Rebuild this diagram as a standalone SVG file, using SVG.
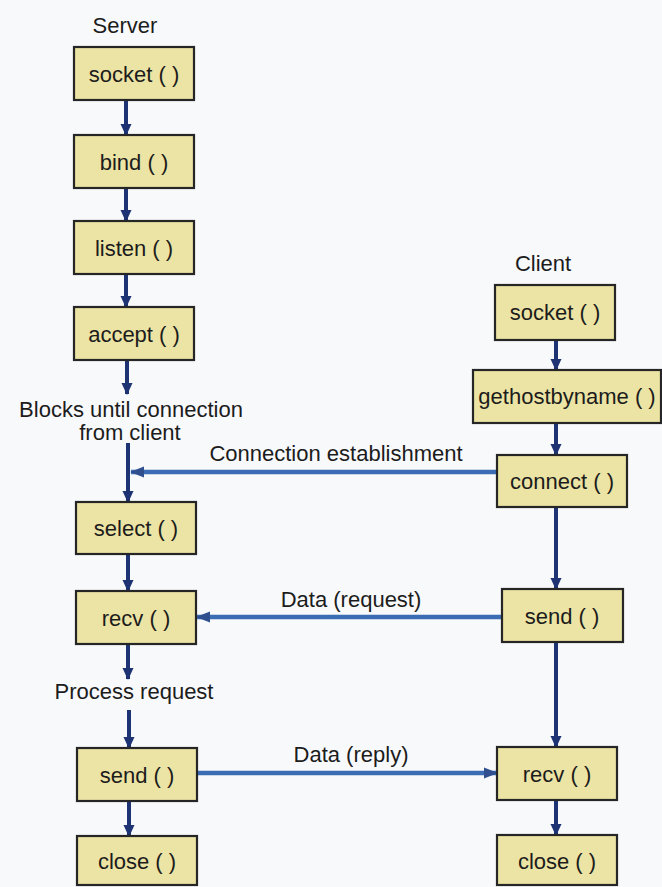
<svg xmlns="http://www.w3.org/2000/svg" width="662" height="887" viewBox="0 0 662 887">
  <style>
    .box rect { fill: #ece4a4; stroke: #262626; stroke-width: 2.2; }
    .box text, .lbl { font-family: "Liberation Sans", Arial, sans-serif; font-size: 22px; fill: #1c1c1c; text-anchor: middle; }
    .flow { stroke: #1d3373; stroke-width: 4; fill: none; }
    .msg { stroke: #3a6db3; stroke-width: 4.5; fill: none; }
  </style>
  <defs>
    <marker id="headFlow" markerUnits="userSpaceOnUse" markerWidth="12" markerHeight="12" viewBox="0 0 12 12" refX="11" refY="6" orient="auto">
      <path d="M0,0.5 L12,6 L0,11.5 z" fill="#1d3373"/>
    </marker>
    <marker id="headMsg" markerUnits="userSpaceOnUse" markerWidth="14" markerHeight="12" viewBox="0 0 14 12" refX="13" refY="6" orient="auto">
      <path d="M0,0.5 L14,6 L0,11.5 z" fill="#2f4f8f"/>
    </marker>
  </defs>

  <rect width="662" height="887" fill="#f8f9fb"/>

  <!-- column headings and annotations -->
  <text class="lbl" x="125" y="33">Server</text>
  <text class="lbl" x="543" y="271">Client</text>
  <text class="lbl" x="131" y="417">Blocks until connection</text>
  <text class="lbl" x="130" y="440">from client</text>
  <text class="lbl" x="134" y="699">Process request</text>
  <text class="lbl" x="336" y="461">Connection establishment</text>
  <text class="lbl" x="351" y="607">Data (request)</text>
  <text class="lbl" x="351" y="762">Data (reply)</text>

  <!-- connectors -->
  <g id="connectors">
    <!-- server flow -->
    <line class="flow" x1="126" y1="100" x2="126" y2="135" marker-end="url(#headFlow)"/>
    <line class="flow" x1="126" y1="188" x2="126" y2="221" marker-end="url(#headFlow)"/>
    <line class="flow" x1="126" y1="274" x2="126" y2="307" marker-end="url(#headFlow)"/>
    <line class="flow" x1="127" y1="360" x2="127" y2="394" marker-end="url(#headFlow)"/>
    <line class="flow" x1="128" y1="443" x2="128" y2="502" marker-end="url(#headFlow)"/>
    <line class="flow" x1="128" y1="554" x2="128" y2="591" marker-end="url(#headFlow)"/>
    <line class="flow" x1="128" y1="644" x2="128" y2="679" marker-end="url(#headFlow)"/>
    <line class="flow" x1="129" y1="710" x2="129" y2="748" marker-end="url(#headFlow)"/>
    <line class="flow" x1="129" y1="801" x2="129" y2="836" marker-end="url(#headFlow)"/>
    <!-- client flow -->
    <line class="flow" x1="556" y1="340" x2="556" y2="370" marker-end="url(#headFlow)"/>
    <line class="flow" x1="556" y1="423" x2="556" y2="455" marker-end="url(#headFlow)"/>
    <line class="flow" x1="556" y1="507" x2="556" y2="589" marker-end="url(#headFlow)"/>
    <line class="flow" x1="556" y1="642" x2="556" y2="747" marker-end="url(#headFlow)"/>
    <line class="flow" x1="556" y1="800" x2="556" y2="835" marker-end="url(#headFlow)"/>
    <!-- messages between the two sides -->
    <line class="msg" x1="497" y1="472" x2="131" y2="472" marker-end="url(#headMsg)"/>
    <line class="msg" x1="502" y1="617" x2="197" y2="617" marker-end="url(#headMsg)"/>
    <line class="msg" x1="197" y1="773" x2="497" y2="773" marker-end="url(#headMsg)"/>
  </g>

  <!-- server calls -->
  <g id="srv-socket" class="box"><rect x="74" y="47" width="120" height="53"/><text x="134" y="82">socket ( )</text></g>
  <g id="srv-bind" class="box"><rect x="74" y="135" width="120" height="53"/><text x="134" y="170">bind ( )</text></g>
  <g id="srv-listen" class="box"><rect x="74" y="221" width="120" height="53"/><text x="134" y="256">listen ( )</text></g>
  <g id="srv-accept" class="box"><rect x="74" y="307" width="120" height="53"/><text x="134" y="342">accept ( )</text></g>
  <g id="srv-select" class="box"><rect x="76" y="502" width="120" height="52"/><text x="136" y="536">select ( )</text></g>
  <g id="srv-recv" class="box"><rect x="76" y="591" width="120" height="53"/><text x="136" y="626">recv ( )</text></g>
  <g id="srv-send" class="box"><rect x="77" y="748" width="120" height="53"/><text x="137" y="783">send ( )</text></g>
  <g id="srv-close" class="box"><rect x="77" y="836" width="120" height="49"/><text x="137" y="869">close ( )</text></g>

  <!-- client calls -->
  <g id="cli-socket" class="box"><rect x="495" y="285" width="120" height="55"/><text x="555" y="320">socket ( )</text></g>
  <g id="cli-gethostbyname" class="box"><rect x="473" y="370" width="188" height="53"/><text x="567" y="404">gethostbyname ( )</text></g>
  <g id="cli-connect" class="box"><rect x="497" y="455" width="130" height="52"/><text x="562" y="489">connect ( )</text></g>
  <g id="cli-send" class="box"><rect x="502" y="589" width="121" height="53"/><text x="562" y="624">send ( )</text></g>
  <g id="cli-recv" class="box"><rect x="497" y="747" width="120" height="53"/><text x="557" y="782">recv ( )</text></g>
  <g id="cli-close" class="box"><rect x="497" y="835" width="120" height="50"/><text x="557" y="869">close ( )</text></g>
</svg>
